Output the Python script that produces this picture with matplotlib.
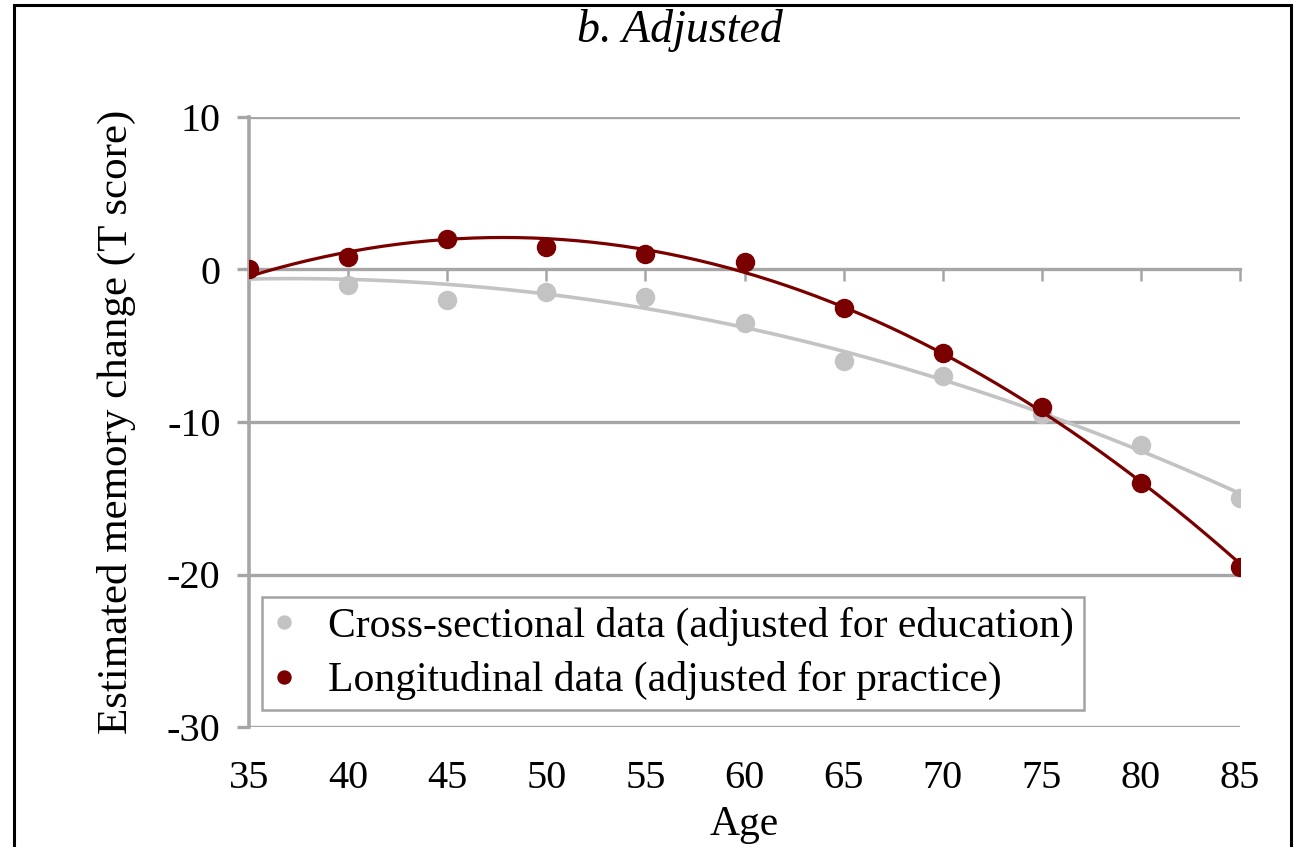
import numpy as np
import matplotlib
matplotlib.use("Agg")
import matplotlib.pyplot as plt
from matplotlib.patches import Rectangle

ages = [35, 40, 45, 50, 55, 60, 65, 70, 75, 80, 85]
cross_sectional = [0.0, -1.0, -2.0, -1.5, -1.8, -3.5, -6.0, -7.0, -9.5, -11.5, -15.0]
longitudinal = [0.0, 0.8, 2.0, 1.5, 1.0, 0.5, -2.5, -5.5, -9.0, -14.0, -19.5]
yticks = [10, 0, -10, -20, -30]
label_cross = "Cross-sectional data (adjusted for education)"
label_long = "Longitudinal data (adjusted for practice)"

GRAY = "#c3c3c3"
RED = "#7a0000"
AXC = "#a6a6a6"

plt.rcParams['font.family'] = ['Liberation Serif', 'DejaVu Serif']

fig = plt.figure(figsize=(13.01, 8.47), dpi=100)
ax = fig.add_axes([249/1301, 1-727/847, (1240-249)/1301, (727-117)/847])

x = np.array(ages, dtype=float)
xs = np.linspace(35, 85, 200)
pc = np.polyfit(x, cross_sectional, 2)
pl = np.polyfit(x, longitudinal, 2)

ax.plot(xs, np.polyval(pc, xs), color=GRAY, lw=2.6, zorder=3)
ax.plot(xs, np.polyval(pl, xs), color=RED, lw=2.3, zorder=4)
ax.plot(ages, cross_sectional, 'o', color=GRAY, ms=13, ls='none', zorder=3,
        label=label_cross)
ax.plot(ages, longitudinal, 'o', color=RED, ms=13, ls='none', zorder=5,
        label=label_long)

ax.set_xlim(35, 85)
ax.set_ylim(-30, 10)
ax.set_yticks(yticks)
ax.set_yticklabels([str(v) for v in yticks])
ax.set_xticks(ages)

for v in yticks:
    if v != 0:
        ax.axhline(v, color=AXC, lw=2.4, zorder=1)

for s in ['top', 'right']:
    ax.spines[s].set_visible(False)
ax.spines['left'].set_color(AXC)
ax.spines['left'].set_linewidth(2.6)
ax.spines['bottom'].set_position(('data', 0))
ax.spines['bottom'].set_color(AXC)
ax.spines['bottom'].set_linewidth(2.4)
ax.spines['bottom'].set_zorder(1)

ax.tick_params(axis='x', direction='out', length=8.5, width=1.8, color=AXC,
               labelbottom=False)
ax.tick_params(axis='y', direction='out', length=8.5, width=2.4, color=AXC,
               labelsize=29, pad=12)

sec = ax.secondary_xaxis('bottom')
sec.set_xticks(ages)
sec.set_xticklabels([str(a) for a in ages])
sec.tick_params(length=0, labelsize=29, pad=24)
sec.spines['bottom'].set_visible(False)
sec.set_xlabel("Age", fontsize=30, labelpad=6)

ax.set_ylabel("Estimated memory change (T score)", fontsize=31, labelpad=22)

leg = ax.legend(loc='upper left', bbox_to_anchor=(0.013, 0.213), borderaxespad=0,
                fontsize=30, frameon=True, fancybox=False, markerscale=0.72,
                handlelength=0.6, handletextpad=0.75, labelspacing=0.36,
                borderpad=0.24)
leg.get_frame().set_edgecolor("#8c8c8c")
leg.get_frame().set_linewidth(1.8)

fig.text(680/1301, 1-30/847, "b. Adjusted", ha='center', va='center',
         fontsize=33, style='italic')

fig.patches.append(Rectangle((14/1301, -0.1), (1291-14)/1301, 1.1 - 5/847,
                             transform=fig.transFigure, fill=False,
                             edgecolor='black', lw=2.2))

fig.savefig("out.png", dpi=100)
